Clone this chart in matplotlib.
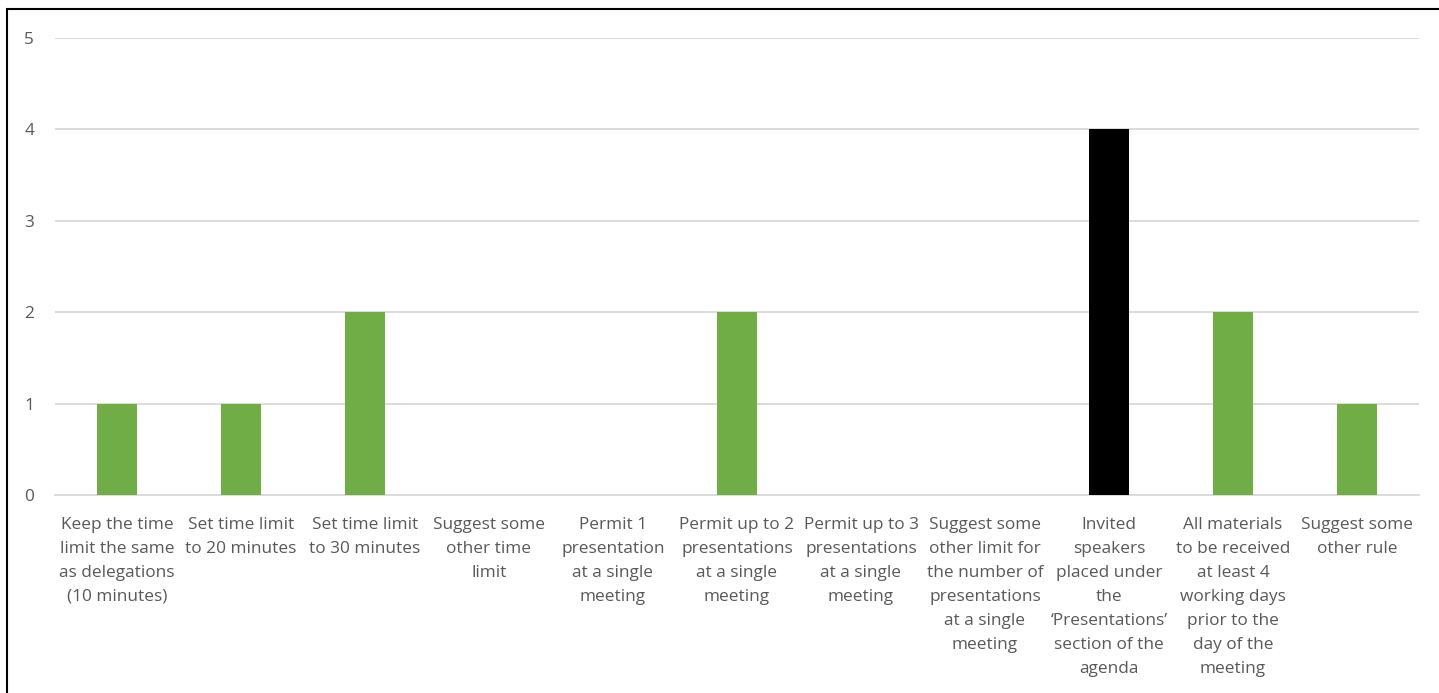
import matplotlib
matplotlib.use("Agg")
import matplotlib.pyplot as plt
from matplotlib.patches import Rectangle

categories = [
    "Keep the time\nlimit the same\nas delegations\n(10 minutes)",
    "Set time limit\nto 20 minutes",
    "Set time limit\nto 30 minutes",
    "Suggest some\nother time\nlimit",
    "Permit 1\npresentation\nat a single\nmeeting",
    "Permit up to 2\npresentations\nat a single\nmeeting",
    "Permit up to 3\npresentations\nat a single\nmeeting",
    "Suggest some\nother limit for\nthe number of\npresentations\nat a single\nmeeting",
    "Invited\nspeakers\nplaced under\nthe\n\u2018Presentations\u2019\nsection of the\nagenda",
    "All materials\nto be received\nat least 4\nworking days\nprior to the\nday of the\nmeeting",
    "Suggest some\nother rule",
]
values = [1, 1, 2, 0, 0, 2, 0, 0, 4, 2, 1]
highlight = [False, False, False, False, False, False, False, False, True, False, False]
y_ticks = [0, 1, 2, 3, 4, 5]

GREEN = "#70AD47"
BLACK = "#000000"
TEXT = "#595959"
GRID = "#D9D9D9"

plt.rcParams["font.family"] = ["Open Sans", "DejaVu Sans"]

W, H = 1439, 693
fig = plt.figure(figsize=(W / 100, H / 100), dpi=100)
ax = fig.add_axes([55 / W, 1 - 495 / H, (1419 - 55) / W, (495 - 38) / H])

x = list(range(len(categories)))
colors = [BLACK if h else GREEN for h in highlight]
ax.bar(x, values, width=0.32, color=colors, zorder=3)

ax.set_xlim(-0.5, len(categories) - 0.5)
ax.set_ylim(0, 5)
ax.set_yticks(y_ticks)
ax.set_yticklabels([str(t) for t in y_ticks])
ax.set_xticks(x)
ax.set_xticklabels(categories, fontsize=12.4, color=TEXT, linespacing=1.66, va="top")

ax.grid(axis="y", color=GRID, linewidth=1.3, zorder=0)
for s in ["top", "right", "left"]:
    ax.spines[s].set_visible(False)
ax.spines["bottom"].set_color(GRID)
ax.spines["bottom"].set_linewidth(1.3)
ax.tick_params(axis="both", length=0)
ax.tick_params(axis="x", pad=16)
ax.tick_params(axis="y", pad=15, labelsize=12.4, labelcolor=TEXT)

# Chart border (open to the right and bottom)
fig.patches.append(Rectangle((7.5 / W, -0.1), 1.2, 1 - 9 / H + 0.1,
                             transform=fig.transFigure, fill=False,
                             edgecolor="black", linewidth=1.5))

fig.savefig("out.png", dpi=100)
